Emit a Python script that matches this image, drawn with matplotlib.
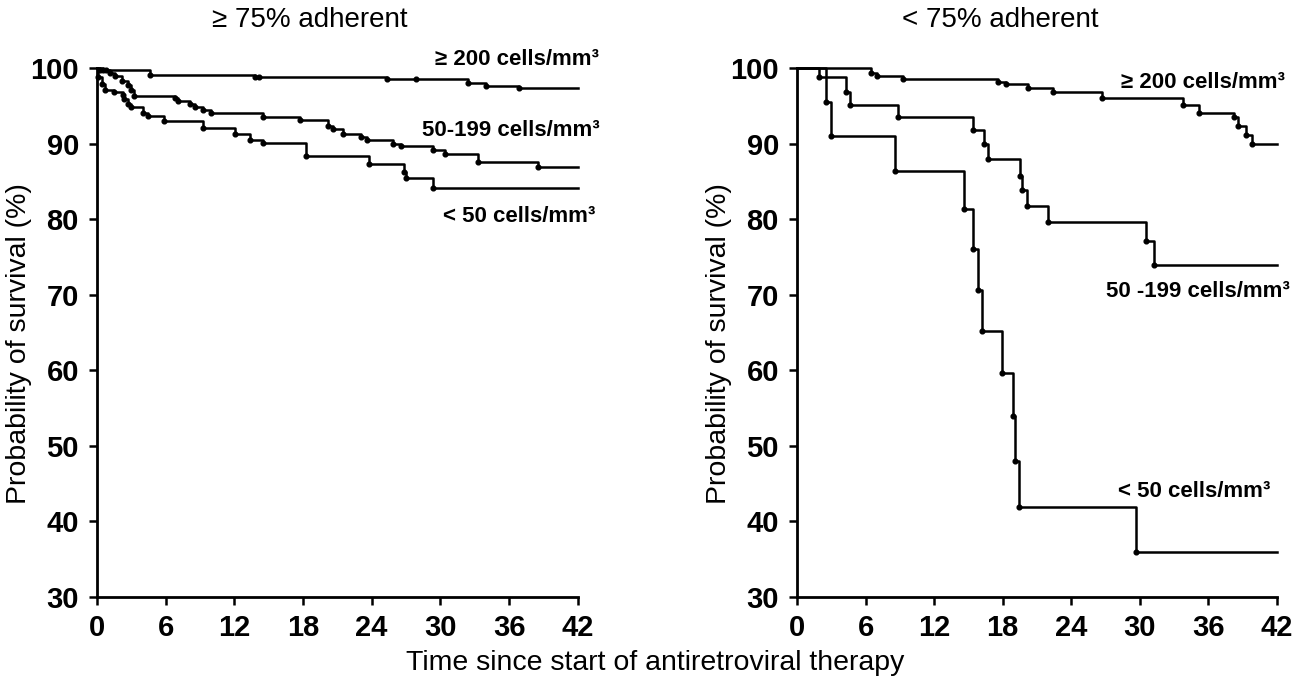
import matplotlib
matplotlib.use("Agg")
import matplotlib.pyplot as plt

plt.rcParams['font.family'] = ['Liberation Sans', 'DejaVu Sans']

# step data: time of event (months) and survival after it (%)
hi_200_t = [0.3, 0.8, 4.6, 13.8, 25.3, 32.4, 34.0, 36.9]
hi_200_v = [99.8, 99.7, 99.1, 98.8, 98.6, 98.0, 97.6, 97.4]
hi_200_cens = [14.2, 27.9]

hi_50_t = [0.5, 1.1, 1.6, 2.2, 2.7, 3.0, 3.2, 6.8, 7.1, 8.1, 8.6, 9.3, 10.0,
           14.5, 17.7, 20.2, 20.6, 21.5, 23.1, 23.6, 25.9, 26.6, 29.4, 30.4,
           33.3, 38.5]
hi_50_v = [99.7, 99.3, 98.9, 98.3, 97.8, 97.1, 96.3, 96.0, 95.6, 95.2, 94.9,
           94.4, 94.0, 93.6, 93.1, 92.4, 91.9, 91.3, 90.9, 90.5, 90.0, 89.7,
           89.2, 88.6, 87.6, 86.9]

hi_0_t = [0.1, 0.4, 0.7, 1.5, 2.3, 2.4, 2.7, 3.0, 4.0, 4.5, 5.9, 9.3, 12.1,
          13.4, 14.5, 18.3, 23.8, 26.8, 27.0, 29.4]
hi_0_v = [98.8, 97.9, 97.1, 96.8, 96.4, 95.9, 95.2, 94.9, 94.1, 93.7, 93.0,
          92.1, 91.3, 90.5, 90.1, 88.4, 87.3, 86.2, 85.5, 84.1]

lo_200_t = [6.5, 7.0, 9.3, 17.6, 18.3, 20.2, 22.4, 26.7, 33.8, 35.2, 38.2,
            38.6, 39.3, 39.8]
lo_200_v = [99.4, 98.9, 98.6, 98.2, 97.9, 97.4, 96.8, 96.1, 95.1, 94.1, 93.6,
            92.4, 91.2, 90.0]

lo_50_t = [1.9, 4.3, 4.6, 8.8, 15.4, 16.4, 16.7, 19.5, 19.7, 20.1, 22.0,
           30.5, 31.2]
lo_50_v = [98.8, 96.8, 95.1, 93.6, 91.8, 89.9, 88.0, 85.7, 83.9, 81.7, 79.6,
           77.1, 73.9]

lo_0_t = [2.5, 3.0, 8.6, 14.6, 15.4, 15.8, 16.2, 17.9, 18.9, 19.1, 19.45, 29.7]
lo_0_v = [95.5, 91.0, 86.4, 81.4, 76.0, 70.6, 65.2, 59.7, 54.0, 48.0, 41.9,
          36.0]

x_ticks = [0, 6, 12, 18, 24, 30, 36, 42]
y_ticks = [30, 40, 50, 60, 70, 80, 90, 100]


def km(ax, t, v, cens=()):
    xs = [0] + t + [42]
    ys = [100] + v + [v[-1]]
    ax.step(xs, ys, where='post', color='black', lw=1.8, clip_on=False)
    ax.plot(t, v, 'o', color='black', ms=3.4, clip_on=False)
    for c in cens:
        # censored mark sits on the current level
        lvl = 100
        for tt, vv in zip(t, v):
            if tt <= c:
                lvl = vv
        ax.plot([c], [lvl], 'o', color='black', ms=3.4)


def style(ax):
    ax.set_xlim(0, 42)
    ax.set_ylim(30, 100)
    ax.set_xticks(x_ticks)
    ax.set_yticks(y_ticks)
    for s in ['top', 'right']:
        ax.spines[s].set_visible(False)
    for s in ['left', 'bottom']:
        ax.spines[s].set_linewidth(2.0)
    ax.tick_params(direction='out', length=6, width=1.8, labelsize=21)
    ax.tick_params(axis='x', pad=6)
    ax.tick_params(axis='y', pad=7)
    for lab in ax.get_xticklabels() + ax.get_yticklabels():
        lab.set_fontweight('bold')
    ax.set_ylabel('Probability of survival (%)', fontsize=20.5)
    ax.yaxis.set_label_coords(-0.135, 0.48)


fig = plt.figure(figsize=(13.1, 6.85), dpi=100)
ax1 = fig.add_axes([0.074, 0.1285, 0.367, 0.772])
ax2 = fig.add_axes([0.6084, 0.1285, 0.3664, 0.772])

km(ax1, hi_200_t, hi_200_v, hi_200_cens)
km(ax1, hi_50_t, hi_50_v)
km(ax1, hi_0_t, hi_0_v)
style(ax1)

km(ax2, lo_200_t, lo_200_v)
km(ax2, lo_50_t, lo_50_v)
km(ax2, lo_0_t, lo_0_v)
style(ax2)

lab_kw = dict(fontsize=16, fontweight='bold', ha='right', va='center', clip_on=False)
ax1.text(43.9, 101.1, '≥ 200 cells/mm³', **lab_kw)
ax1.text(43.9, 91.7, '50-199 cells/mm³', **lab_kw)
ax1.text(43.5, 80.4, '< 50 cells/mm³', **lab_kw)

ax2.text(42.7, 98.1, '≥ 200 cells/mm³', **lab_kw)
ax2.text(43.1, 70.4, '50 -199 cells/mm³', **lab_kw)
ax2.text(41.4, 43.9, '< 50 cells/mm³', **lab_kw)

fig.text(310 / 1310, 1 - 20 / 685, '≥ 75% adherent', fontsize=20,
         ha='center', va='center')
fig.text(1000 / 1310, 1 - 20 / 685, '< 75% adherent', fontsize=20,
         ha='center', va='center')
fig.text(655 / 1310, 1 - 663 / 685, 'Time since start of antiretroviral therapy',
         fontsize=20.5, ha='center', va='center')

fig.savefig('out.png', dpi=100)
